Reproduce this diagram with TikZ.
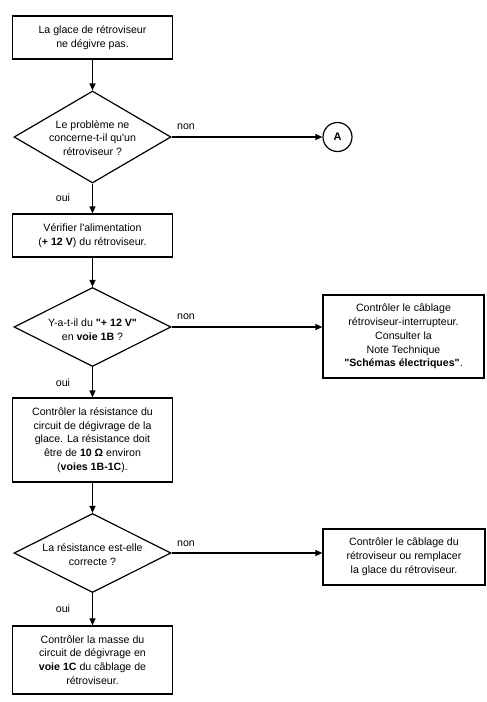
\documentclass[tikz,border=0pt]{standalone}
\usepackage{fontspec}
\setmainfont{Liberation Sans}[Ligatures=TeXOff]
\usetikzlibrary{shapes.geometric,arrows.meta}
\tikzset{
  box/.style={draw, line width=1.2pt, inner sep=0pt, align=center},
  dia/.style={draw, diamond, line width=1.2pt, inner sep=0pt, minimum width=157pt},
  txt/.style={align=center, inner sep=0pt},
  lbl/.style={inner sep=0pt},
  flow/.style={line width=1.2pt, -{Triangle[length=7pt,width=6pt]}},
}
\begin{document}
\begin{tikzpicture}[x=1pt,y=-1pt,font=\fontsize{10.6}{13.8}\selectfont]
\useasboundingbox (0,0) rectangle (487,702);
% left column
\node[box, minimum width=160pt, minimum height=43pt] (b1) at (92.5,37.5) {La glace de rétroviseur\\ne dégivre pas.};
\node[dia, minimum height=92pt] (d1) at (92.5,137) {};
\node[txt] (t1) at (92.5,138) {Le problème ne\\concerne-t-il qu'un\\rétroviseur ?};
\node[box, minimum width=160pt, minimum height=43pt] (b2) at (92.5,235.5) {Vérifier l'alimentation\\(\textbf{+ 12 V}) du rétroviseur.};
\node[dia, minimum height=79pt] (d2) at (92.5,327) {};
\node[txt] (t2) at (92.5,330) {Y-a-t-il du \textbf{"+ 12 V"}\\en \textbf{voie 1B} ?};
\node[box, minimum width=160pt, minimum height=84pt] (b4) at (92.5,440) {Contrôler la résistance du\\circuit de dégivrage de la\\glace. La résistance doit\\être de \textbf{10 Ω} environ\\(\textbf{voies 1B-1C}).};
\node[dia, minimum height=79pt] (d3) at (92.5,553) {};
\node[txt] (t3) at (92.5,555) {La résistance est-elle\\correcte ?};
\node[box, minimum width=160pt, minimum height=68pt] (b5) at (92.5,660) {Contrôler la masse du\\circuit de dégivrage en\\\textbf{voie 1C} du câblage de\\rétroviseur.};
% right column
\node[draw, circle, line width=1.2pt, minimum size=29pt, inner sep=0pt, font=\fontsize{11}{13}\selectfont\bfseries] (ca) at (337.5,137) {A};
\node[box, minimum width=161pt, minimum height=83pt] (b3) at (403.5,336.5) {Contrôler le câblage\\rétroviseur-interrupteur.\\Consulter la\\Note Technique\\\textbf{"Schémas électriques"}.};
\node[box, minimum width=162pt, minimum height=56pt] (b6) at (404,557) {Contrôler le câblage du\\rétroviseur ou remplacer\\la glace du rétroviseur.};
% connectors
\draw[flow] (b1) -- (d1);
\draw[flow] (d1) -- (b2);
\draw[flow] (b2) -- (d2);
\draw[flow] (d2) -- (b4);
\draw[flow] (b4) -- (d3);
\draw[flow] (d3) -- (b5);
\draw[flow] (d1.east) -- (ca.west);
\draw[flow] (d2.east) -- (d2.east -| b3.west);
\draw[flow] (d3.east) -- (d3.east -| b6.west);
% labels
\node[lbl] (n1) at (186,127) {non};
\node[lbl] (n2) at (186,317) {non};
\node[lbl] (n3) at (186,544) {non};
\node[lbl] (o1) at (63,198) {oui};
\node[lbl] (o2) at (63,383) {oui};
\node[lbl] (o3) at (63,609) {oui};
\end{tikzpicture}
\end{document}
